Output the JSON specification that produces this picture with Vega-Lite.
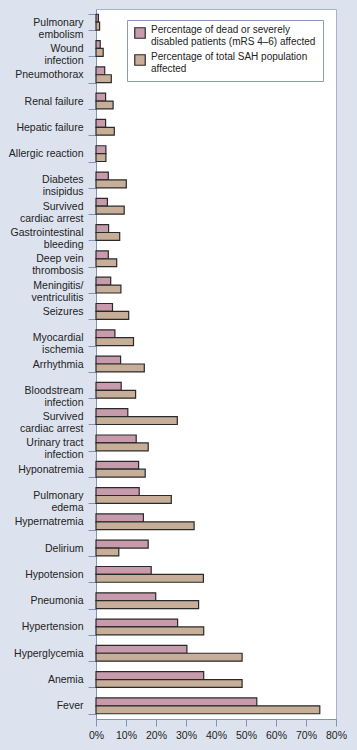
{
  "$schema": "https://vega.github.io/schema/vega-lite/v6.json",
  "width": 240,
  "height": 710,
  "autosize": {"type": "none"},
  "padding": {"left": 96, "top": 9, "right": 21, "bottom": 31},
  "background": "#dde3ee",
  "config": {
    "font": "Liberation Sans",
    "view": {"fill": "#ffffff", "stroke": "#a7b3cb", "strokeWidth": 1}
  },
  "data": {
    "values": [
      {"complication": "Pulmonary\nembolism", "series": "Percentage of dead or severely\ndisabled patients (mRS 4–6) affected", "value": 0.8},
      {"complication": "Pulmonary\nembolism", "series": "Percentage of total SAH population\naffected", "value": 1.2},
      {"complication": "Wound\ninfection", "series": "Percentage of dead or severely\ndisabled patients (mRS 4–6) affected", "value": 1.4},
      {"complication": "Wound\ninfection", "series": "Percentage of total SAH population\naffected", "value": 2.4},
      {"complication": "Pneumothorax", "series": "Percentage of dead or severely\ndisabled patients (mRS 4–6) affected", "value": 2.9},
      {"complication": "Pneumothorax", "series": "Percentage of total SAH population\naffected", "value": 5.1},
      {"complication": "Renal failure", "series": "Percentage of dead or severely\ndisabled patients (mRS 4–6) affected", "value": 3.2},
      {"complication": "Renal failure", "series": "Percentage of total SAH population\naffected", "value": 5.7},
      {"complication": "Hepatic failure", "series": "Percentage of dead or severely\ndisabled patients (mRS 4–6) affected", "value": 3.2},
      {"complication": "Hepatic failure", "series": "Percentage of total SAH population\naffected", "value": 6.1},
      {"complication": "Allergic reaction", "series": "Percentage of dead or severely\ndisabled patients (mRS 4–6) affected", "value": 3.3},
      {"complication": "Allergic reaction", "series": "Percentage of total SAH population\naffected", "value": 3.3},
      {"complication": "Diabetes\ninsipidus", "series": "Percentage of dead or severely\ndisabled patients (mRS 4–6) affected", "value": 4.1},
      {"complication": "Diabetes\ninsipidus", "series": "Percentage of total SAH population\naffected", "value": 10.1},
      {"complication": "Survived\ncardiac arrest", "series": "Percentage of dead or severely\ndisabled patients (mRS 4–6) affected", "value": 3.8},
      {"complication": "Survived\ncardiac arrest", "series": "Percentage of total SAH population\naffected", "value": 9.4},
      {"complication": "Gastrointestinal\nbleeding", "series": "Percentage of dead or severely\ndisabled patients (mRS 4–6) affected", "value": 4.2},
      {"complication": "Gastrointestinal\nbleeding", "series": "Percentage of total SAH population\naffected", "value": 7.9},
      {"complication": "Deep vein\nthrombosis", "series": "Percentage of dead or severely\ndisabled patients (mRS 4–6) affected", "value": 4.1},
      {"complication": "Deep vein\nthrombosis", "series": "Percentage of total SAH population\naffected", "value": 6.9},
      {"complication": "Meningitis/\nventriculitis", "series": "Percentage of dead or severely\ndisabled patients (mRS 4–6) affected", "value": 4.9},
      {"complication": "Meningitis/\nventriculitis", "series": "Percentage of total SAH population\naffected", "value": 8.3},
      {"complication": "Seizures", "series": "Percentage of dead or severely\ndisabled patients (mRS 4–6) affected", "value": 5.5},
      {"complication": "Seizures", "series": "Percentage of total SAH population\naffected", "value": 10.9},
      {"complication": "Myocardial\nischemia", "series": "Percentage of dead or severely\ndisabled patients (mRS 4–6) affected", "value": 6.3},
      {"complication": "Myocardial\nischemia", "series": "Percentage of total SAH population\naffected", "value": 12.5},
      {"complication": "Arrhythmia", "series": "Percentage of dead or severely\ndisabled patients (mRS 4–6) affected", "value": 8.2},
      {"complication": "Arrhythmia", "series": "Percentage of total SAH population\naffected", "value": 16.1},
      {"complication": "Bloodstream\ninfection", "series": "Percentage of dead or severely\ndisabled patients (mRS 4–6) affected", "value": 8.4},
      {"complication": "Bloodstream\ninfection", "series": "Percentage of total SAH population\naffected", "value": 13.2},
      {"complication": "Survived\ncardiac arrest ", "series": "Percentage of dead or severely\ndisabled patients (mRS 4–6) affected", "value": 10.6},
      {"complication": "Survived\ncardiac arrest ", "series": "Percentage of total SAH population\naffected", "value": 27.1},
      {"complication": "Urinary tract\ninfection", "series": "Percentage of dead or severely\ndisabled patients (mRS 4–6) affected", "value": 13.4},
      {"complication": "Urinary tract\ninfection", "series": "Percentage of total SAH population\naffected", "value": 17.4},
      {"complication": "Hyponatremia", "series": "Percentage of dead or severely\ndisabled patients (mRS 4–6) affected", "value": 14.2},
      {"complication": "Hyponatremia", "series": "Percentage of total SAH population\naffected", "value": 16.4},
      {"complication": "Pulmonary\nedema", "series": "Percentage of dead or severely\ndisabled patients (mRS 4–6) affected", "value": 14.4},
      {"complication": "Pulmonary\nedema", "series": "Percentage of total SAH population\naffected", "value": 25.1},
      {"complication": "Hypernatremia", "series": "Percentage of dead or severely\ndisabled patients (mRS 4–6) affected", "value": 15.8},
      {"complication": "Hypernatremia", "series": "Percentage of total SAH population\naffected", "value": 32.7},
      {"complication": "Delirium", "series": "Percentage of dead or severely\ndisabled patients (mRS 4–6) affected", "value": 17.4},
      {"complication": "Delirium", "series": "Percentage of total SAH population\naffected", "value": 7.6},
      {"complication": "Hypotension", "series": "Percentage of dead or severely\ndisabled patients (mRS 4–6) affected", "value": 18.4},
      {"complication": "Hypotension", "series": "Percentage of total SAH population\naffected", "value": 35.8},
      {"complication": "Pneumonia", "series": "Percentage of dead or severely\ndisabled patients (mRS 4–6) affected", "value": 19.9},
      {"complication": "Pneumonia", "series": "Percentage of total SAH population\naffected", "value": 34.2},
      {"complication": "Hypertension", "series": "Percentage of dead or severely\ndisabled patients (mRS 4–6) affected", "value": 27.2},
      {"complication": "Hypertension", "series": "Percentage of total SAH population\naffected", "value": 35.9},
      {"complication": "Hyperglycemia", "series": "Percentage of dead or severely\ndisabled patients (mRS 4–6) affected", "value": 30.3},
      {"complication": "Hyperglycemia", "series": "Percentage of total SAH population\naffected", "value": 48.7},
      {"complication": "Anemia", "series": "Percentage of dead or severely\ndisabled patients (mRS 4–6) affected", "value": 35.9},
      {"complication": "Anemia", "series": "Percentage of total SAH population\naffected", "value": 48.7},
      {"complication": "Fever", "series": "Percentage of dead or severely\ndisabled patients (mRS 4–6) affected", "value": 53.6},
      {"complication": "Fever", "series": "Percentage of total SAH population\naffected", "value": 74.6}
    ]
  },
  "mark": {"type": "bar", "stroke": "#2a2a2a", "strokeWidth": 1.2},
  "encoding": {
    "y": {
      "field": "complication",
      "type": "nominal",
      "sort": null,
      "scale": {"paddingInner": 0.4, "paddingOuter": 0.2},
      "axis": {
        "title": null,
        "labelExpr": "split(trim(datum.label), '\\n')",
        "labelFontSize": 10.5,
        "labelLineHeight": 12,
        "labelColor": "#222222",
        "labelPadding": 5,
        "tickSize": 8,
        "tickBand": "extent",
        "tickColor": "#7f93b8",
        "domainColor": "#7f93b8",
        "labelLimit": 200
      }
    },
    "yOffset": {
      "field": "series",
      "type": "nominal",
      "sort": null,
      "scale": {"paddingInner": 0, "paddingOuter": 0}
    },
    "x": {
      "field": "value",
      "type": "quantitative",
      "scale": {"domain": [0, 80], "nice": false},
      "axis": {
        "title": null,
        "grid": false,
        "values": [0, 10, 20, 30, 40, 50, 60, 70, 80],
        "labelExpr": "datum.value + '%'",
        "labelOverlap": false,
        "labelFlush": false,
        "labelFontSize": 10.5,
        "labelColor": "#222222",
        "labelPadding": 4,
        "tickSize": 7,
        "tickColor": "#7f93b8",
        "domainColor": "#7f93b8"
      }
    },
    "color": {
      "field": "series",
      "type": "nominal",
      "scale": {
        "domain": ["Percentage of dead or severely\ndisabled patients (mRS 4–6) affected", "Percentage of total SAH population\naffected"],
        "range": ["#c89bac", "#c7ae98"]
      },
      "legend": {
        "title": null,
        "orient": "none",
        "legendX": 31,
        "legendY": 11,
        "padding": 7,
        "fillColor": "#ffffff",
        "strokeColor": "#8b9cbf",
        "symbolType": "square",
        "symbolSize": 110,
        "symbolStrokeColor": "#2a2a2a",
        "symbolStrokeWidth": 1.2,
        "symbolOpacity": 1,
        "labelExpr": "split(datum.label, '\\n')",
        "labelFontSize": 10,
        "labelLineHeight": 12,
        "labelColor": "#222222",
        "labelBaseline": "alphabetic",
        "labelOffset": 5,
        "labelLimit": 260,
        "rowPadding": 5
      }
    }
  }
}
